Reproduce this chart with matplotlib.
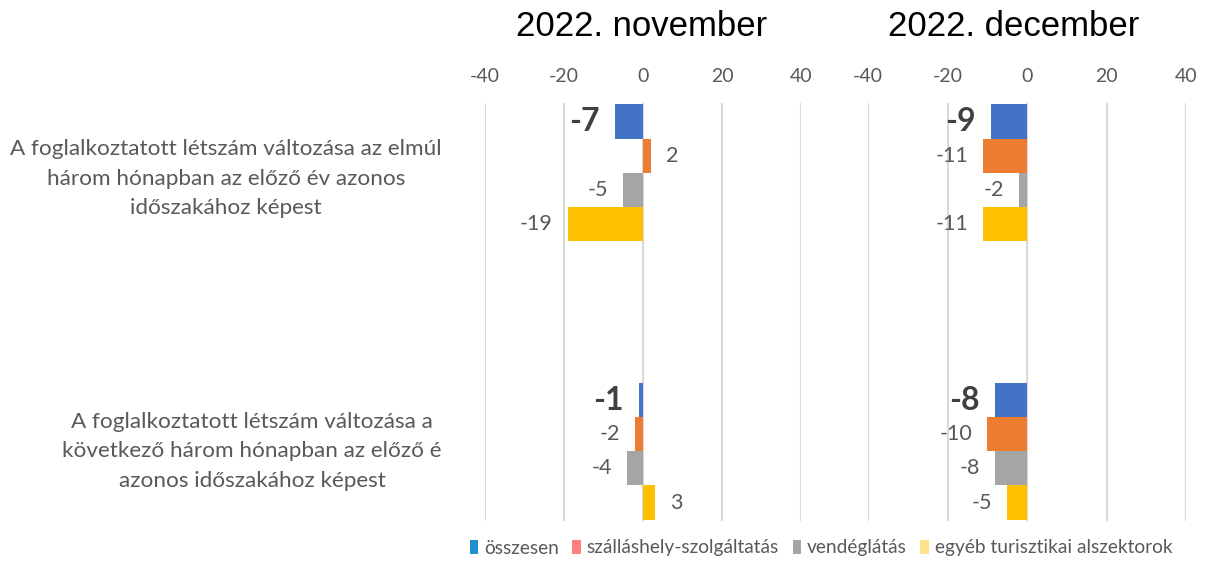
import matplotlib
matplotlib.use("Agg")
import matplotlib.pyplot as plt
import matplotlib.transforms as mtransforms
from matplotlib.patches import Patch

plt.rcParams['font.family'] = ['Lato', 'DejaVu Sans']

# data
categories = [
    "A foglalkoztatott létszám változása az elmúl\nhárom hónapban az előző év azonos\nidőszakához képest",
    "A foglalkoztatott létszám változása a\nkövetkező három hónapban az előző é\nazonos időszakához képest",
]
series_names = ["összesen", "szálláshely-szolgáltatás", "vendéglátás", "egyéb turisztikai alszektorok"]
panel_titles = ["2022. november", "2022. december"]
nov_values = [[-7, 2, -5, -19], [-1, -2, -4, 3]]
dec_values = [[-9, -11, -2, -11], [-8, -10, -8, -5]]
ticks = [-40, -20, 0, 20, 40]

bar_colors = ["#4472C4", "#ED7D31", "#A5A5A5", "#FFC000"]
legend_colors = ["#1F8FD0", "#FF7F7F", "#A5A5A5", "#FFE38A"]

fig = plt.figure(figsize=(12.09, 5.85), dpi=100)
ax1 = fig.add_axes([485 / 1209, 1 - 521 / 585, 316 / 1209, 418 / 585])
ax2 = fig.add_axes([868 / 1209, 1 - 521 / 585, 318 / 1209, 418 / 585])

bh = 0.1225
for ax, vals in [(ax1, nov_values), (ax2, dec_values)]:
    for c, group in enumerate(vals):
        for s, v in enumerate(group):
            y = c + (s - 1.5) * bh
            ax.barh(y, v, height=bh, color=bar_colors[s], zorder=3)
            off = 11 if v > 0 else -11
            if s == 0:
                ax.annotate(str(v), (v if v < 0 else 0, y), xytext=(off, 0), textcoords="offset points",
                            ha="right" if v < 0 else "left", va="center",
                            fontsize=23, fontweight="bold", color="#404040")
            else:
                ax.annotate(str(v), (v, y), xytext=(off, 0), textcoords="offset points",
                            ha="left" if v > 0 else "right", va="center",
                            fontsize=15.5, color="#595959")
    ax.set_xlim(-40, 40)
    ax.set_ylim(1.25, -0.25)
    ax.set_xticks(ticks)
    ax.set_xticklabels([str(t) for t in ticks])
    ax.xaxis.tick_top()
    ax.tick_params(axis="x", length=0, pad=13, labelsize=14, labelcolor="#595959")
    ax.set_yticks([])
    ax.grid(axis="x", color="#D9D9D9", linewidth=1.5, zorder=0)
    for sp in ax.spines.values():
        sp.set_visible(False)

# panel titles
title_x = [642 / 1209, 1014 / 1209]
for tx, title in zip(title_x, panel_titles):
    fig.text(tx, 1 - 27 / 585, title, ha="center", va="center", fontsize=25,
             family=['Liberation Sans', 'DejaVu Sans'], color="black")

# category labels on the left
trans = mtransforms.blended_transform_factory(fig.transFigure, ax1.transData)
cat_x = [226 / 1209, 252 / 1209]
cat_dy = [0.022, 0.0]
for i, lab in enumerate(categories):
    ax1.text(cat_x[i], i + cat_dy[i], lab, transform=trans, ha="center", va="center",
             multialignment="center", fontsize=16.2, color="#595959", linespacing=1.6)

handles = [Patch(facecolor=c, edgecolor="none") for c in legend_colors]
fig.legend(handles, series_names, loc="center", bbox_to_anchor=(821 / 1209, 1 - 548 / 585),
           ncol=4, frameon=False, fontsize=13.8, handlelength=0.45, handleheight=0.75,
           handletextpad=0.3, columnspacing=0.7, labelcolor="#595959")

fig.savefig("out.png", dpi=100)
